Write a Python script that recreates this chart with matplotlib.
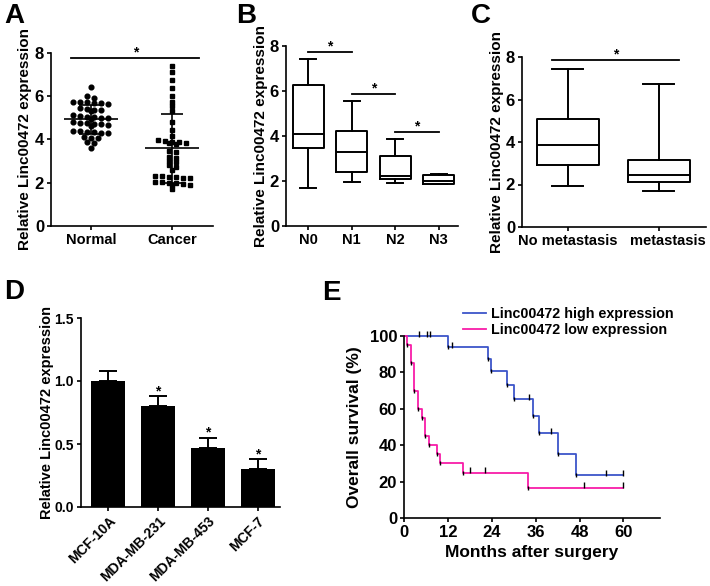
import numpy as np
import matplotlib
matplotlib.use('Agg')
import matplotlib.pyplot as plt
import matplotlib.transforms as mtransforms

plt.rcParams['font.family'] = ['Liberation Sans', 'DejaVu Sans']
plt.rcParams['font.weight'] = 'bold'
plt.rcParams['axes.labelweight'] = 'bold'
plt.rcParams['axes.linewidth'] = 1.2
plt.rcParams['xtick.major.width'] = 1.2
plt.rcParams['ytick.major.width'] = 1.2
plt.rcParams['xtick.major.size'] = 3
plt.rcParams['ytick.major.size'] = 3

# ---- data ----
# A: tissue expression
normal_vals = [6.42, 6.02, 5.90, 5.75, 5.73, 5.72, 5.70, 5.68, 5.62, 5.45, 5.42,
               5.38, 5.35, 5.30, 5.12, 5.10, 5.05, 5.02, 5.00, 4.98, 4.95, 4.80,
               4.78, 4.75, 4.72, 4.70, 4.68, 4.62, 4.40, 4.38, 4.35, 4.33, 4.30,
               4.28, 4.12, 4.08, 4.05, 3.88, 3.82, 3.60]
cancer_vals = [7.42, 7.11, 6.73, 6.40, 6.03, 5.73, 5.57, 5.32, 4.83, 4.43, 4.18,
               3.97, 3.95, 3.90, 3.88, 3.85, 3.82, 3.80,
               3.45, 3.42, 3.20, 3.15, 3.00, 2.95, 2.80, 2.75, 2.60,
               2.32, 2.30, 2.28, 2.25, 2.22, 2.20,
               2.05, 2.02, 2.00, 1.98, 1.95, 1.90, 1.88, 1.70]
tissue_labels = ['Normal', 'Cancer']

# B: lymph node stage
stage_labels = ['N0', 'N1', 'N2', 'N3']
stage_whislo = [1.70, 1.97, 1.93, 1.85]
stage_q1 = [3.45, 2.41, 2.07, 1.87]
stage_med = [4.07, 3.30, 2.22, 2.00]
stage_q3 = [6.27, 4.24, 3.13, 2.27]
stage_whishi = [7.41, 5.57, 3.85, 2.31]

# C: metastasis
meta_labels = ['No metastasis', 'metastasis']
meta_whislo = [1.91, 1.69]
meta_q1 = [2.93, 2.12]
meta_med = [3.87, 2.43]
meta_q3 = [5.10, 3.14]
meta_whishi = [7.45, 6.75]

# D: cell lines
cell_lines = ['MCF-10A', 'MDA-MB-231', 'MDA-MB-453', 'MCF-7']
cell_means = [1.00, 0.80, 0.47, 0.305]
cell_sd = [0.08, 0.08, 0.08, 0.075]
cell_sig = [False, True, True, True]

# E: Kaplan-Meier
km_high_t = [0, 12.1, 23.1, 23.7, 28.1, 30.2, 35.3, 36.8, 42.0, 47.1, 60]
km_high_s = [100, 94.1, 87.6, 80.9, 73.2, 65.4, 56.0, 46.6, 35.0, 23.4, 23.4]
km_high_cens = [4.0, 6.3, 7.1, 13.2, 34.1, 40.2, 55.2, 60]
km_low_t = [0, 0.9, 1.8, 2.7, 3.8, 4.8, 5.75, 6.85, 8.9, 9.8, 16.0, 34.0, 60]
km_low_s = [100, 95, 85, 70, 60, 55, 45, 40, 35, 30, 25, 16.7, 16.7]
km_low_cens = [18.1, 22.2, 49.1, 60]

W, H = 710, 586
fig = plt.figure(figsize=(W / 100, H / 100), dpi=100)


def px_axes(left, top, right, bottom):
    ax = fig.add_axes([left / W, 1 - bottom / H, (right - left) / W, (bottom - top) / H])
    ax.spines['top'].set_visible(False)
    ax.spines['right'].set_visible(False)
    return ax


def row_offsets(vals, row_h, step):
    vals = np.asarray(vals)
    order = np.argsort(vals)[::-1]
    offs = np.zeros(len(vals))
    group = []

    def flush(g):
        k = len(g)
        for j, idx in enumerate(g):
            offs[idx] = (j - (k - 1) / 2) * step

    for idx in order:
        if group and vals[group[0]] - vals[idx] > row_h:
            flush(group)
            group = []
        group.append(idx)
    flush(group)
    return offs


def sig_bar(ax, x0, x1, y, star_dy):
    ax.plot([x0, x1], [y, y], color='black', lw=1.3, clip_on=False)
    ax.text((x0 + x1) / 2, y + star_dy, '*', ha='center', va='center',
            fontsize=10, fontweight='bold')


def box_stats(labels, lo, q1, med, q3, hi):
    return [dict(label=l, whislo=a, q1=b, med=c, q3=d, whishi=e)
            for l, a, b, c, d, e in zip(labels, lo, q1, med, q3, hi)]


# ---- A ----
axA = px_axes(51, 53, 213, 226)
for i, (vals, mk, ms) in enumerate([(normal_vals, 'o', 3.4), (cancer_vals, 's', 3.5)]):
    offs = row_offsets(vals, 0.15, 0.086)
    axA.plot(i + offs, vals, mk, color='black', ms=ms, ls='none', clip_on=False)
    m, s = np.mean(vals), np.std(vals, ddof=1)
    axA.hlines(m, i - 0.33, i + 0.33, color='black', lw=1.2)
    axA.errorbar(i, m, yerr=s, color='black', lw=1.2, capsize=9 if i == 0 else 8,
                 capthick=1.2)
axA.set_xlim(-0.49, 1.5)
axA.set_ylim(0, 8)
axA.set_yticks([0, 2, 4, 6, 8])
axA.set_xticks([0, 1])
axA.set_xticklabels(tissue_labels)
sig_bar(axA, -0.24, 1.33, 7.79, 0.22)

# ---- B ----
axB = px_axes(286, 46, 458, 226)
axB.bxp(box_stats(stage_labels, stage_whislo, stage_q1, stage_med, stage_q3, stage_whishi),
        positions=range(4), widths=0.71, capwidths=0.36, showfliers=False,
        boxprops=dict(lw=1.4), whiskerprops=dict(lw=1.4), capprops=dict(lw=1.4),
        medianprops=dict(color='black', lw=1.4))
axB.set_xlim(-0.51, 3.44)
axB.set_ylim(0, 8)
axB.set_yticks([0, 2, 4, 6, 8])
sig_bar(axB, 0, 1, 7.75, 0.25)
sig_bar(axB, 1, 2, 5.87, 0.25)
sig_bar(axB, 2, 3, 4.19, 0.25)

# ---- C ----
axC = px_axes(522, 57, 706, 227)
axC.bxp(box_stats(meta_labels, meta_whislo, meta_q1, meta_med, meta_q3, meta_whishi),
        positions=range(2), widths=0.68, capwidths=0.34, showfliers=False,
        boxprops=dict(lw=1.4), whiskerprops=dict(lw=1.4), capprops=dict(lw=1.4),
        medianprops=dict(color='black', lw=1.4))
axC.set_xlim(-0.5, 1.52)
axC.set_ylim(0, 8)
axC.set_yticks([0, 2, 4, 6, 8])
sig_bar(axC, -0.17, 1.22, 7.87, 0.25)

for ax, lx in ((axA, -0.115), (axB, -0.105), (axC, -0.10)):
    ax.set_ylabel('Relative Linc00472 expression', fontsize=11)
    ax.yaxis.set_label_coords(lx, 0.5)
    ax.tick_params(axis='x', labelsize=10.5, pad=2)
    ax.tick_params(axis='y', labelsize=12, pad=2)

# nudge "metastasis" label right, as in the original layout
lab2 = axC.get_xticklabels()[1]
lab2.set_transform(lab2.get_transform() +
                   mtransforms.ScaledTranslation(7 / 72, 0, fig.dpi_scale_trans))

# ---- D ----
axD = px_axes(81, 318, 280, 507)
xD = np.arange(len(cell_lines))
axD.bar(xD, cell_means, width=0.68, color='black')
axD.errorbar(xD, cell_means, yerr=[np.zeros(len(xD)), cell_sd], fmt='none',
             ecolor='black', elinewidth=1.4, capsize=6.5, capthick=1.4)
for x, m, s, sg in zip(xD, cell_means, cell_sd, cell_sig):
    if sg:
        axD.text(x, m + s + 0.04, '*', ha='center', va='center', fontsize=10)
axD.set_xlim(-0.55, 3.45)
axD.set_ylim(0, 1.5)
axD.set_yticks([0, 0.5, 1.0, 1.5])
axD.set_yticklabels(['0.0', '0.5', '1.0', '1.5'])
axD.set_xticks(xD)
axD.set_xticklabels(cell_lines, rotation=45, ha='right', rotation_mode='anchor')
axD.tick_params(axis='y', labelsize=10, pad=2)
axD.tick_params(axis='x', labelsize=10, pad=2)
axD.set_ylabel('Relative Linc00472 expression', fontsize=10.5)
axD.yaxis.set_label_coords(-0.135, 0.5)

# ---- E ----
axE = px_axes(404, 336, 660, 518)


def step_at(ts, ss, t):
    v = ss[0]
    for ti, si in zip(ts, ss):
        if t >= ti:
            v = si
    return v


for ts, ss, cens, col, lab in [
        (km_high_t, km_high_s, km_high_cens, '#3d55c9', 'Linc00472 high expression'),
        (km_low_t, km_low_s, km_low_cens, '#f81ca8', 'Linc00472 low expression')]:
    axE.step(ts, ss, where='post', color=col, lw=1.3, label=lab, clip_on=False)
    axE.plot(ts[1:-1], ss[1:-1], '|', color='black', ms=3.5, mew=1.0, clip_on=False)
    axE.plot(cens, [step_at(ts, ss, c) + 1.2 for c in cens], '|', color='black',
             ms=4, mew=1.0, clip_on=False)
axE.set_xlim(0, 70)
axE.set_ylim(0, 100)
axE.set_xticks([0, 12, 24, 36, 48, 60])
axE.set_yticks([0, 20, 40, 60, 80, 100])
axE.tick_params(labelsize=12, pad=2)
axE.set_xlabel('Months after surgery', fontsize=12.5)
axE.xaxis.set_label_coords(0.5, -0.15)
axE.set_ylabel('Overall survival (%)', fontsize=12.5)
axE.yaxis.set_label_coords(-0.165, 0.5)
axE.legend(loc='upper left', bbox_to_anchor=(463 / W, 1 - 307 / H),
           bbox_transform=fig.transFigure, frameon=False, fontsize=10.3,
           handlelength=1.6, handletextpad=0.35, borderpad=0, borderaxespad=0,
           labelspacing=0.12)

# ---- panel letters ----
for lx, ly, letter in [(4, 3, 'A'), (236, 3, 'B'), (471, 3, 'C'), (4, 279, 'D'), (322, 280, 'E')]:
    fig.text(lx / W, 1 - ly / H, letter, fontsize=20, fontweight='bold', va='top', ha='left')

fig.savefig('out.png', dpi=100)
